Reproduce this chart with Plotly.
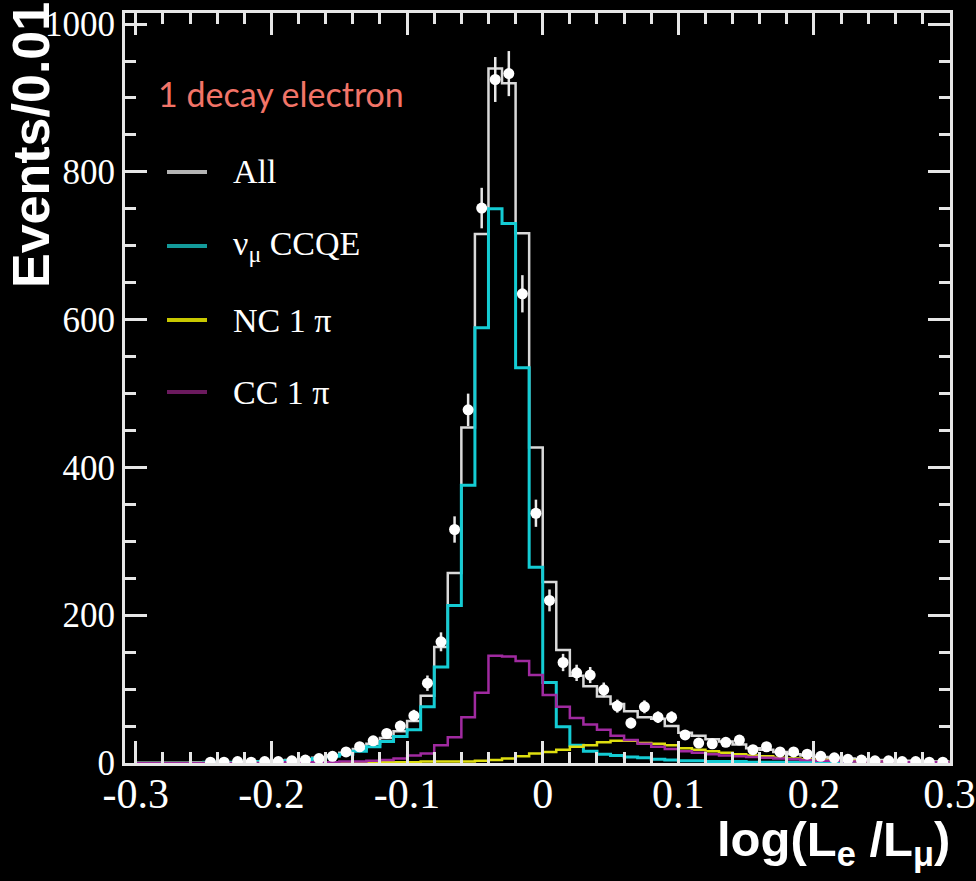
import plotly.graph_objects as go

# ---- data (bin centres, bin width 0.01) ----
bin_centers = [-0.295, -0.285, -0.275, -0.265, -0.255, -0.245, -0.235, -0.225, -0.215, -0.205,
               -0.195, -0.185, -0.175, -0.165, -0.155, -0.145, -0.135, -0.125, -0.115, -0.105,
               -0.095, -0.085, -0.075, -0.065, -0.055, -0.045, -0.035, -0.025, -0.015, -0.005,
               0.005, 0.015, 0.025, 0.035, 0.045, 0.055, 0.065, 0.075, 0.085, 0.095,
               0.105, 0.115, 0.125, 0.135, 0.145, 0.155, 0.165, 0.175, 0.185, 0.195,
               0.205, 0.215, 0.225, 0.235, 0.245, 0.255, 0.265, 0.275, 0.285, 0.295]
bin_width = 0.01

all_mc = [0, 0, 0, 0, 1, 1, 1, 1, 2, 2,
          3, 4, 5, 7, 10, 14, 19, 26, 34, 43,
          57, 91, 157, 257, 454, 716, 940, 920, 717, 427,
          245, 153, 118, 104, 90, 80, 70, 62, 60, 50,
          41, 37, 32, 29, 25, 20, 18, 15, 12, 10,
          8, 7, 6, 5, 4, 4, 3, 3, 2, 2]
ccqe = [0, 0, 0, 0, 0, 1, 1, 1, 1, 2,
        2, 3, 4, 6, 9, 12, 16, 22, 29, 36,
        45, 76, 130, 213, 376, 589, 750, 730, 535, 265,
        109, 49, 24, 16, 12, 10, 8, 7, 5, 4,
        3, 3, 2, 2, 2, 1, 1, 1, 1, 1,
        0, 0, 0, 0, 0, 0, 0, 0, 0, 0]
nc1pi = [0, 0, 0, 0, 0, 0, 0, 0, 0, 0,
         0, 0, 0, 0, 0, 1, 1, 1, 1, 1,
         1, 2, 2, 2, 2, 3, 4, 6, 9, 13,
         15, 18, 22, 24, 28, 30, 30, 27, 26, 24,
         20, 18, 16, 14, 12, 10, 9, 7, 6, 5,
         4, 3, 3, 2, 2, 2, 1, 1, 1, 1]
cc1pi = [0, 0, 0, 0, 0, 0, 0, 0, 0, 0,
         0, 1, 1, 1, 1, 2, 2, 3, 4, 6,
         10, 13, 24, 35, 62, 95, 145, 144, 138, 119,
         92, 76, 61, 52, 45, 37, 31, 26, 22, 19,
         16, 14, 12, 10, 9, 8, 7, 6, 5, 4,
         3, 3, 2, 2, 2, 2, 1, 1, 1, 1]
data_counts = [None, None, None, None, None, 1, 1, 2, 1, 2,
               2, 3, 4, 6, 9, 15, 22, 30, 40, 50,
               64, 108, 164, 316, 478, 751, 925, 933, 635, 338,
               220, 136, 122, 119, 99, 77, 54, 76, 62, 62,
               38, 27, 26, 28, 31, 18, 22, 15, 15, 12,
               9, 7, 5, 4, 3, 3, 2, 2, 1, 1]
data_errors = [0, 0, 0, 0, 0, 1, 1, 1.4, 1, 1.4,
               1.4, 1.7, 2, 2.4, 3, 3.9, 4.7, 5.5, 6.3, 7.1,
               8, 10.4, 12.8, 17.8, 21.9, 27.4, 30.4, 30.5, 25.2, 18.4,
               14.8, 11.7, 11, 10.9, 9.9, 8.8, 7.3, 8.7, 7.9, 7.9,
               6.2, 5.2, 5.1, 5.3, 5.6, 4.2, 4.7, 3.9, 3.9, 3.5,
               3, 2.6, 2.2, 2, 1.7, 1.7, 1.4, 1.4, 1, 1]

x_tick_vals = [-0.3, -0.2, -0.1, 0, 0.1, 0.2, 0.3]
x_tick_text = ["-0.3", "-0.2", "-0.1", "0", "0.1", "0.2", "0.3"]
y_tick_vals = [0, 200, 400, 600, 800, 1000]

legend_names = ["All", "ν<sub>μ</sub> CCQE", "NC 1 π", "CC 1 π"]
legend_colors = ["#b4b4b4", "#139a9a", "#c8c800", "#6b1a5e"]

# ---- styles ----
C_ALL = "#d9d9d9"
C_CCQE = "#14ccd4"
C_NC = "#dede10"
C_CC = "#a02aa0"

# ---- layout geometry (pixels) ----
W, H = 976, 881
ML, MR, MT, MB = 125, 26, 13, 118
PW, PH = W - ML - MR, H - MT - MB


def px(xpix):
    return (xpix - ML) / PW


def py(ypix):
    return (H - MB - ypix) / PH


edges = [c - bin_width / 2 for c in bin_centers] + [bin_centers[-1] + bin_width / 2]


def step(vals):
    return vals + [vals[-1]]


fig = go.Figure()
for vals, col, w in [(all_mc, C_ALL, 2.5), (ccqe, C_CCQE, 3), (nc1pi, C_NC, 2.5), (cc1pi, C_CC, 2.5)]:
    fig.add_trace(go.Scatter(x=edges, y=step(vals), mode="lines", line_shape="hv",
                             line=dict(color=col, width=w), showlegend=False, hoverinfo="skip"))

fig.add_trace(go.Scatter(
    x=bin_centers, y=data_counts, mode="markers",
    marker=dict(color="white", size=11, symbol="circle"),
    error_y=dict(type="data", array=data_errors, visible=True, color="#e8e8e8", thickness=2.5, width=0),
    showlegend=False))

# legend (drawn manually)
leg_rows = [172, 246, 320, 392]
for name, col, yp in zip(legend_names, legend_colors, leg_rows):
    fig.add_shape(type="line", xref="paper", yref="paper", x0=px(167), x1=px(207),
                  y0=py(yp), y1=py(yp), line=dict(color=col, width=4))
    fig.add_annotation(xref="paper", yref="paper", x=px(231), y=py(yp), xanchor="left", yanchor="middle",
                       text=name, showarrow=False,
                       font=dict(family="Liberation Serif", size=34, color="white"))

fig.add_annotation(xref="paper", yref="paper", x=px(156), y=py(93), xanchor="left", yanchor="middle",
                   text="1 decay electron", showarrow=False,
                   font=dict(family="Lato", size=34, color="#f27468"))

fig.add_annotation(xref="paper", yref="paper", x=px(31), y=py(0), xanchor="center", yanchor="top",
                   text="<b>Events/0.01</b>", textangle=-90, showarrow=False,
                   font=dict(family="Liberation Sans", size=52, color="white"))

fig.add_annotation(xref="paper", yref="paper", x=px(952), y=py(842), xanchor="right", yanchor="middle",
                   text="<b>log(L<sub>e</sub> /L<sub>μ</sub>)</b>", showarrow=False,
                   font=dict(family="Liberation Sans", size=49, color="white"))

axis_common = dict(showgrid=False, zeroline=False, showline=True, linecolor="#e6e6e6", linewidth=3,
                   mirror="ticks", ticks="inside", tickcolor="#e6e6e6", tickwidth=2.5, ticklen=22)

fig.update_xaxes(range=[-0.308, 0.3003], tickmode="array", tickvals=x_tick_vals, ticktext=x_tick_text,
                 tickfont=dict(family="Liberation Serif", size=42, color="white"),
                 ticklabelstandoff=-8,
                 minor=dict(ticks="inside", dtick=0.02, tick0=-0.3, ticklen=11, tickwidth=2.5,
                            tickcolor="#e6e6e6", showgrid=False),
                 **axis_common)
fig.update_yaxes(range=[0, 1015], tickmode="array", tickvals=y_tick_vals,
                 tickfont=dict(family="Liberation Serif", size=35, color="white"),
                 minor=dict(ticks="inside", dtick=50, tick0=0, ticklen=11, tickwidth=2.5,
                            tickcolor="#e6e6e6", showgrid=False),
                 **axis_common)

fig.update_layout(width=W, height=H, margin=dict(l=ML, r=MR, t=MT, b=MB, autoexpand=False),
                  paper_bgcolor="black", plot_bgcolor="black", showlegend=False)

fig.write_html("out.html", config={"displayModeBar": False},
               post_script="document.body.style.margin='0px';document.body.style.background='black';"
                           "document.body.style.overflow='hidden';")
